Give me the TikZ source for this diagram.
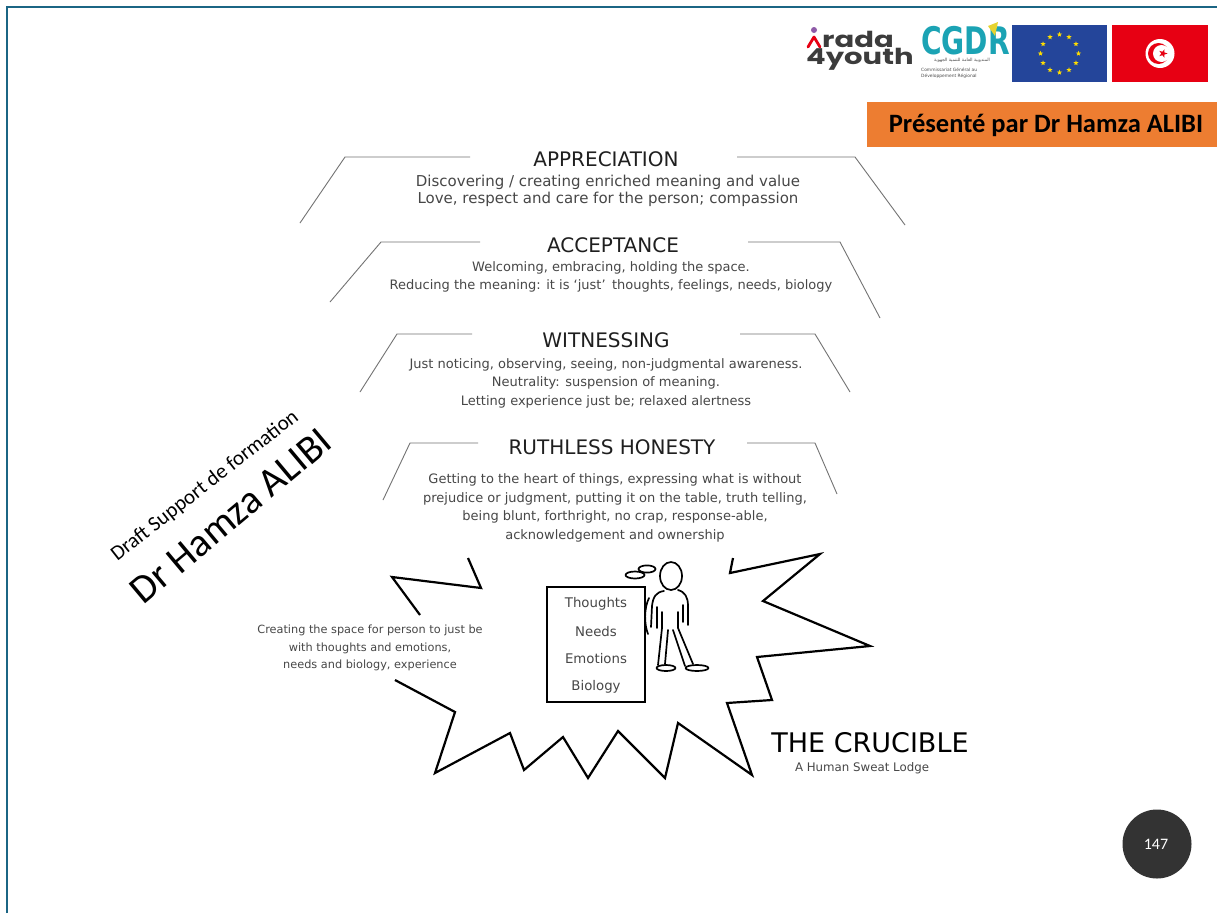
\documentclass[tikz,border=0pt]{standalone}
\usepackage{fontspec}
\setmainfont{DejaVu Sans}
\newfontfamily\dv{DejaVu Sans}
\newfontfamily\calfont{Carlito}
\newfontfamily\popfont[FakeStretch=1.32]{Poppins}
\newfontfamily\logofont[FakeStretch=0.74]{DejaVu Sans}
\newfontfamily\arabicfont[Script=Arabic]{DejaVu Sans}
\TeXXeTstate=1
\usetikzlibrary{shapes.geometric,calc}
\definecolor{frameblue}{HTML}{1B6584}
\definecolor{banner}{HTML}{ED7D31}
\definecolor{eublue}{HTML}{24459A}
\definecolor{eustar}{HTML}{FFDD00}
\definecolor{tnred}{HTML}{E70013}
\definecolor{cgdr}{HTML}{1BA3B4}
\definecolor{cgdryel}{HTML}{E6D330}
\definecolor{aradagray}{HTML}{3C3C3C}
\definecolor{aradapurple}{HTML}{8E5BA8}
\definecolor{pagedisc}{HTML}{333333}
\tikzset{
  levtitle/.style={font=\dv\fontsize{20}{22}\selectfont, text=black!88, inner sep=0pt},
  levbody/.style={font=\dv\fontsize{13}{18.5}\selectfont, text=black!72, align=center, inner sep=0pt},
  boxword/.style={font=\dv\fontsize{13.3}{14}\selectfont, text=black!72, inner sep=0pt},
  bracket/.style={draw=black!55, line width=0.9pt},
  burst/.style={draw=black, line width=2.2pt, line join=miter},
  fig/.style={draw=black, line width=1.7pt, line cap=round, line join=round},
  eustarnode/.style={star, star points=5, star point ratio=2.4, fill=eustar, inner sep=0pt, minimum size=5.5pt},
}
\begin{document}
\begin{tikzpicture}[x=1pt,y=-1pt]
\useasboundingbox (0,0) rectangle (1217,913);
\fill[white] (0,0) rectangle (1217,913);

% slide frame
\draw[frameblue, line width=2.2pt] (7,913) -- (7,7) -- (1217,7);

% ---- partner logos ----
% arada 4youth
\fill[aradapurple] (814,30) circle (3);
\draw[tnred, line width=2.8pt, line cap=round, line join=round] (808,47) -- (814,37) -- (820,47);
\node[font=\popfont\bfseries\fontsize{22}{22}\selectfont, text=aradagray, anchor=base west, inner sep=0pt] (arada) at (822,47) {rada};
\node[font=\popfont\bfseries\fontsize{22}{22}\selectfont, text=aradagray, anchor=base west, inner sep=0pt] (youth) at (806,64) {4youth};
% CGDR
\node[font=\logofont\bfseries\fontsize{38}{38}\selectfont, text=cgdr, anchor=base west, inner sep=0pt] (cgdr) at (921,54) {CGDR};
\fill[cgdryel] (988,26) -- (998,22) -- (995,36) -- cycle;
\node[font=\arabicfont\fontsize{4.4}{5}\selectfont, text=black!70, inner sep=0pt] (cgdrar) at (962,60.5) {\beginR المندوبية العامة للتنمية الجهوية\endR};
\node[font=\fontsize{4.4}{5.4}\selectfont, text=black!70, inner sep=0pt, align=left, anchor=north west] (cgdrfr) at (921,68) {Commissariat Général au\\Développement Régional};
% EU flag
\fill[eublue] (1012,25) rectangle (1107,82);
\foreach \a in {0,30,...,330}
  \node[eustarnode] at ($(1059.5,53.5)+(\a:19)$) {};
% Tunisian flag
\fill[tnred] (1112,25) rectangle (1208,82);
\fill[white] (1160,53.5) circle (14.5);
\fill[tnred] (1158.5,53.5) circle (10.5);
\fill[white] (1161.5,53.5) circle (8.5);
\node[star, star points=5, star point ratio=2.5, fill=tnred, inner sep=0pt, minimum size=9pt, rotate=-18] (tnstar) at (1163,53.5) {};

% presenter banner
\fill[banner] (867,102) rectangle (1217,147);
\node[font=\calfont\bfseries\fontsize{26.5}{28}\selectfont, text=black, inner sep=0pt] (presenter) at (1046,125) {Présenté par Dr Hamza ALIBI};

% ---- levels ----
\node[levtitle] (appt) at (606,159) {APPRECIATION};
\node[levbody, font=\dv\fontsize{15}{17.5}\selectfont] (appb) at (608,191) {Discovering / creating enriched meaning and value\\Love, respect and care for the person; compassion};
\draw[bracket] (300,223) -- (345,157) -- (470,157);
\draw[bracket] (737,157) -- (855,157) -- (905,225);

\node[levtitle] (acct) at (613,245) {ACCEPTANCE};
\node[levbody] (accb) at (611,277) {Welcoming, embracing, holding the space.\\Reducing the meaning: it is ‘just’\, thoughts, feelings, needs, biology};
\draw[bracket] (330,302) -- (381,242) -- (480,242);
\draw[bracket] (748,242) -- (840,242) -- (880,318);

\node[levtitle] (witt) at (606,340) {WITNESSING};
\node[levbody] (witb) at (606,383) {Just noticing, observing, seeing, non-judgmental awareness.\\Neutrality: suspension of meaning.\\Letting experience just be; relaxed alertness};
\draw[bracket] (360,392) -- (397,334) -- (472,334);
\draw[bracket] (740,334) -- (815,334) -- (850,392);

\node[levtitle] (rutt) at (612,447) {RUTHLESS HONESTY};
\node[levbody] (rutb) at (615,508) {Getting to the heart of things, expressing what is without\\prejudice or judgment, putting it on the table, truth telling,\\being blunt, forthright, no crap, response-able,\\acknowledgement and ownership};
\draw[bracket] (383,500) -- (410,443) -- (478,443);
\draw[bracket] (747,443) -- (815,443) -- (837,494);

% ---- the crucible burst ----
\draw[burst] (468,558) -- (481,588) -- (392,577) -- (420,615);
\draw[burst] (395,680) -- (455,712) -- (435,773) -- (510,733) -- (524,770)
  -- (563,737) -- (588,778) -- (618,731) -- (665,778) -- (678,723)
  -- (752,775) -- (727,703) -- (772,700) -- (757,657) -- (870,646)
  -- (763,601) -- (820,554) -- (730,573) -- (733,558);

\node[font=\dv\fontsize{11.3}{17.5}\selectfont, text=black!72, align=center, inner sep=0pt] (space) at (370,648)
  {Creating the space for person to just be\\with thoughts and emotions,\\needs and biology, experience};

\node[draw=black, line width=1.7pt, minimum width=98pt, minimum height=115pt, inner sep=0pt] (box) at (596,644.5) {};
\node[boxword] (th) at (596,604) {Thoughts};
\node[boxword] (ne) at (596,632) {Needs};
\node[boxword] (em) at (596,659) {Emotions};
\node[boxword] (bi) at (596,687) {Biology};

% the figure standing beside the box
\draw[fig] (671,576) ellipse [x radius=11, y radius=14];
\draw[fig] (635,575) ellipse [x radius=9.5, y radius=3.5];
\draw[fig] (647,569) ellipse [x radius=8.5, y radius=3.6];
% torso and arms
\draw[fig] (664,591) .. controls (656,592) and (653,597) .. (652,606) -- (651,627);
\draw[fig] (657,607) -- (657,628);
\draw[fig] (678,590) .. controls (685,592) and (688,597) .. (688,606) -- (688,625);
\draw[fig] (683,605) -- (683,622);
% legs and feet
\draw[fig] (662,612) -- (662,628) -- (658,665);
\draw[fig] (668,630) -- (665,664);
\draw[fig] (673,630) -- (685,666);
\draw[fig] (678,612) -- (678,628) -- (693,664);
\draw[fig] (666,668) ellipse [x radius=9.5, y radius=3];
\draw[fig] (697,668) ellipse [x radius=11.5, y radius=3];
% motion marks
\draw[fig] (649,598) .. controls (644,608) and (644,624) .. (648,634);

\node[font=\dv\fontsize{27}{29}\selectfont, text=black, inner sep=0pt] (cru) at (870,743) {THE CRUCIBLE};
\node[font=\dv\fontsize{11.8}{13}\selectfont, text=black!72, inner sep=0pt] (lodge) at (862,768) {A Human Sweat Lodge};

% draft watermark
\node[font=\calfont\fontsize{21}{22}\selectfont, text=black, rotate=38, inner sep=0pt] (draft) at (205,486) {Draft Support de formation};
\node[font=\calfont\fontsize{40}{42}\selectfont, text=black, rotate=40, inner sep=0pt] (author) at (231,516) {Dr Hamza ALIBI};

% page number
\fill[pagedisc] (1157,844) circle (34.5);
\node[font=\calfont\fontsize{16}{17}\selectfont, text=white, inner sep=0pt] (pnum) at (1156,844) {147};
\end{tikzpicture}
\end{document}
